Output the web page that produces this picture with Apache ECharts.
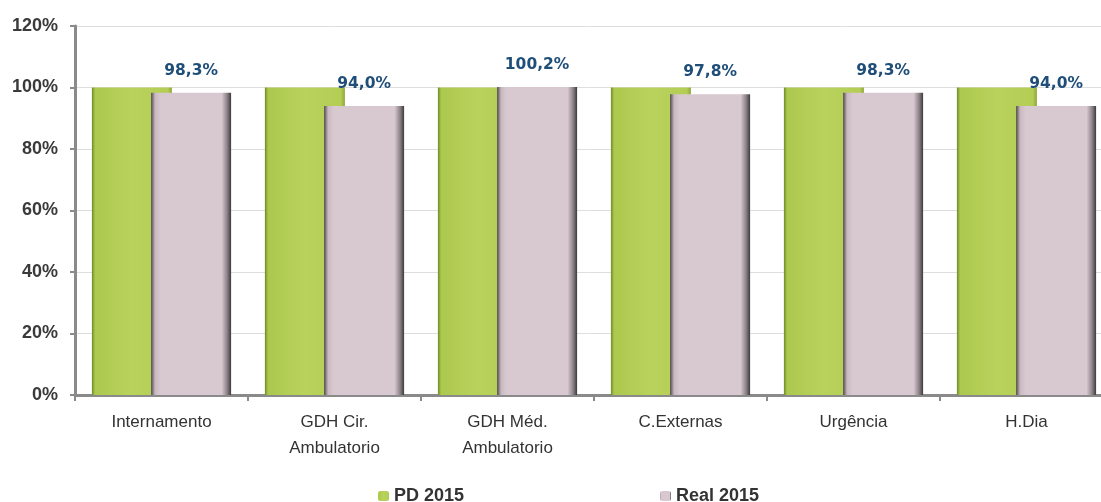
<!DOCTYPE html>
<html>
<head>
<meta charset="utf-8">
<script src="https://cdn.jsdelivr.net/npm/echarts@6/dist/echarts.min.js"></script>
<style>
  html, body { margin: 0; padding: 0; background: #fff; }
  #chart { width: 1101px; height: 502px; }
</style>
</head>
<body>
<div id="chart"></div>
<script>
var categories = ['Internamento', 'GDH Cir.\nAmbulatorio', 'GDH Méd.\nAmbulatorio', 'C.Externas', 'Urgência', 'H.Dia']
var pdData = [100, 100, 100, 100, 100, 100]
var realData = [98.3, 94.0, 100.2, 97.8, 98.3, 94.0]
var yTicks = [0, 20, 40, 60, 80, 100, 120]

var chart = echarts.init(document.getElementById('chart'))

var greenFill = new echarts.graphic.LinearGradient(0, 0, 1, 0, [
  { offset: 0, color: '#6f8a28' },
  { offset: 0.04, color: '#adc84e' },
  { offset: 0.5, color: '#b9d25c' },
  { offset: 0.95, color: '#b4cd55' },
  { offset: 1, color: '#8ea638' }
])
var pinkFill = new echarts.graphic.LinearGradient(0, 0, 1, 0, [
  { offset: 0, color: '#4e484b' },
  { offset: 0.05, color: '#c9b8c0' },
  { offset: 0.12, color: '#d8c9d0' },
  { offset: 0.88, color: '#d8c9d0' },
  { offset: 0.95, color: '#8c8288' },
  { offset: 1, color: '#3c3a3b' }
])

var textFont = 'Liberation Sans'

chart.setOption({
  animation: false,
  grid: {
    left: 75,
    width: 1038,
    top: 26,
    bottom: 107,
    containLabel: false,
    outerBoundsMode: 'none'
  },
  legend: [
    {
      left: 373,
      top: 482,
      itemWidth: 11,
      itemHeight: 10,
      itemGap: 6,
      data: ['PD 2015'],
      textStyle: { fontFamily: textFont, fontWeight: 'bold', fontSize: 18, color: '#333' }
    },
    {
      left: 655,
      top: 482,
      itemWidth: 11,
      itemHeight: 10,
      data: ['Real 2015'],
      textStyle: { fontFamily: textFont, fontWeight: 'bold', fontSize: 18, color: '#333' }
    }
  ],
  xAxis: {
    type: 'category',
    data: categories,
    axisLine: { lineStyle: { color: '#8a8a8a', width: 3 } },
    axisTick: { show: true, length: 6, lineStyle: { color: '#8a8a8a', width: 2 } },
    axisLabel: {
      margin: 14,
      fontFamily: textFont,
      fontSize: 17,
      lineHeight: 26,
      color: '#333'
    }
  },
  yAxis: {
    type: 'value',
    min: 0,
    max: 120,
    interval: 20,
    axisLine: { show: true, lineStyle: { color: '#8a8a8a', width: 3 } },
    axisTick: { show: true, length: 5, lineStyle: { color: '#8a8a8a', width: 2 } },
    splitLine: { lineStyle: { color: '#dedede', width: 1 } },
    axisLabel: {
      margin: 17,
      fontFamily: textFont,
      fontWeight: 'bold',
      fontSize: 18,
      color: '#3a3a3a',
      formatter: function (v) { return yTicks.indexOf(v) >= 0 ? v + '%' : '' }
    }
  },
  series: [
    {
      name: 'PD 2015',
      type: 'bar',
      data: pdData,
      barWidth: 80,
      barGap: '-26%',
      itemStyle: { color: greenFill }
    },
    {
      name: 'Real 2015',
      type: 'bar',
      data: realData,
      barWidth: 80,
      itemStyle: { color: pinkFill },
      label: {
        show: true,
        position: 'top',
        distance: 14,
        fontFamily: 'DejaVu Sans',
        fontWeight: 'bold',
        fontSize: 15.5,
        color: '#1f4e79',
        formatter: function (p) { return p.value.toFixed(1).replace('.', ',') + '%' }
      }
    }
  ]
})
</script>
</body>
</html>
